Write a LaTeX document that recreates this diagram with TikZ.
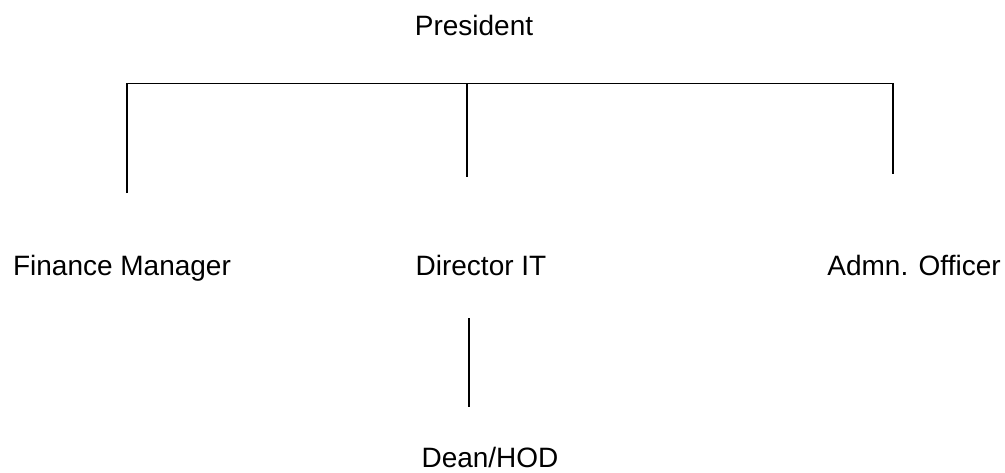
\documentclass[tikz,border=0pt]{standalone}
\usepackage{fontspec}
\setmainfont{Liberation Sans}
\begin{document}
\begin{tikzpicture}[x=0.75pt,y=0.75pt,yscale=-1,xscale=1]
\tikzset{post/.style={anchor=base,inner sep=0.75pt,font=\fontsize{21}{25}\selectfont},
  link/.style={line width=1.1pt}}
\useasboundingbox (0,0) rectangle (1005,472);
% Text Node
\node [post] (pres) at (474,35) {President};
% Text Node
\node [post] (fin) at (122,275) {Finance Manager};
% Text Node
\node [post] (dir) at (481,275) {Director IT};
% Text Node
\node [post] (adm) at (914,275) {Admn. Officer};
% Text Node
\node [post] (dean) at (490,467) {Dean/HOD};

%Bus ends
\coordinate (busL) at (127,83.5);
\coordinate (busM) at (467,83.5);
\coordinate (busR) at (893,83.5);
\coordinate (finT) at (127,193);
\coordinate (dirT) at (467,177);
\coordinate (admT) at (893,174);
\coordinate (dirB) at (469,318);
\coordinate (deanT) at (469,407);

%Shape: Lines
\draw [link] (finT) -- (busL) -- (busR) -- (admT) ;
\draw [link] (busM) -- (dirT) ;
\draw [link] (dirB) -- (deanT) ;
\end{tikzpicture}
\end{document}
